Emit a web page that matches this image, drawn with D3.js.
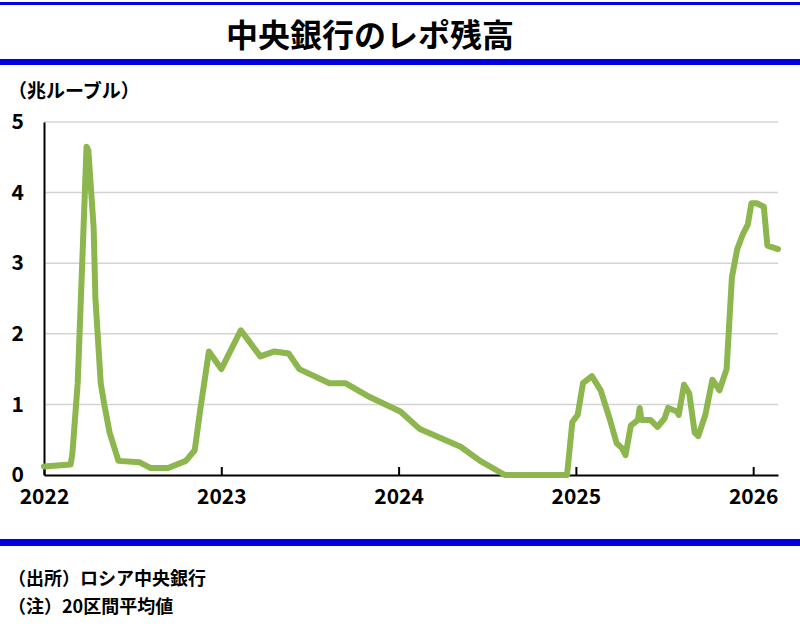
<!DOCTYPE html>
<html><head><meta charset="utf-8">
<script src="https://cdn.jsdelivr.net/npm/d3@7"></script>
<style>body{margin:0;background:#fff}text{font-family:"Noto Sans CJK JP","Noto Sans",sans-serif}</style>
</head><body><svg id="chart" width="800" height="640"></svg>
<script>
const years = [2022, 2023, 2024, 2025, 2026];
const yTicks = [0, 1, 2, 3, 4, 5];
const dates = [2022.00,2022.15,2022.16,2022.19,2022.22,2022.24,2022.25,2022.28,2022.29,2022.32,2022.34,2022.37,2022.42,2022.54,2022.60,2022.70,2022.80,2022.85,2022.88,2022.93,2023.00,2023.11,2023.14,2023.22,2023.30,2023.38,2023.44,2023.61,2023.70,2023.84,2024.01,2024.12,2024.35,2024.46,2024.60,2024.95,2024.98,2025.01,2025.04,2025.09,2025.14,2025.19,2025.23,2025.26,2025.28,2025.31,2025.35,2025.36,2025.37,2025.42,2025.46,2025.50,2025.52,2025.57,2025.58,2025.61,2025.64,2025.67,2025.69,2025.73,2025.77,2025.81,2025.85,2025.88,2025.91,2025.94,2025.97,2025.99,2026.02,2026.06,2026.08,2026.14];
const repo = [0.12,0.15,0.3,1.3,3.3,4.65,4.6,3.5,2.5,1.3,1.0,0.6,0.2,0.18,0.1,0.1,0.2,0.35,0.9,1.75,1.5,2.05,1.95,1.68,1.75,1.72,1.5,1.3,1.3,1.1,0.9,0.65,0.4,0.2,0,0,0.75,0.85,1.3,1.4,1.2,0.8,0.45,0.38,0.28,0.7,0.78,0.95,0.78,0.78,0.68,0.8,0.95,0.9,0.85,1.28,1.15,0.6,0.55,0.85,1.35,1.2,1.5,2.8,3.2,3.4,3.55,3.85,3.85,3.8,3.25,3.2];

const svg = d3.select('#chart');
const x = d3.scaleLinear().domain([2022, 2026.14]).range([44, 778]);
const y = d3.scaleLinear().domain([0, 5]).range([475, 122]);

// header / footer rules
svg.append('rect').attr('x', 0).attr('y', 2).attr('width', 800).attr('height', 3).attr('fill', '#0000e0');
svg.append('rect').attr('x', 0).attr('y', 59).attr('width', 800).attr('height', 6).attr('fill', '#0000e0');
svg.append('rect').attr('x', 0).attr('y', 539).attr('width', 800).attr('height', 7).attr('fill', '#0000e0');
svg.append('text').attr('x', 370).attr('y', 47).attr('text-anchor', 'middle').attr('font-size', 32).attr('font-weight', 'bold').text('中央銀行のレポ残高');
svg.append('text').attr('x', 8).attr('y', 98).attr('font-size', 19).attr('font-weight', 'bold').text('（兆ルーブル）');
svg.append('text').attr('x', 8).attr('y', 585).attr('font-size', 18).attr('font-weight', 'bold').text('（出所）ロシア中央銀行');
svg.append('text').attr('x', 8).attr('y', 613).attr('font-size', 18).attr('font-weight', 'bold').text('（注）20区間平均値');

// grid
svg.append('g').selectAll('line').data(yTicks.slice(1)).join('line')
  .attr('x1', 44).attr('x2', 778).attr('y1', (d) => y(d)).attr('y2', (d) => y(d))
  .attr('stroke', '#d4d4d4').attr('stroke-width', 1.5);

svg.append('g').attr('transform', 'translate(44,0)')
  .call(d3.axisLeft(y).tickValues(yTicks).tickFormat(d3.format('d')).tickSize(0).tickPadding(20))
  .call((g) => g.select('.domain').attr('stroke', '#000').attr('stroke-width', 2))
  .call((g) => g.selectAll('text').attr('font-size', 21).attr('font-weight', 'bold').attr('fill', '#000').attr('font-family', 'Liberation Sans Narrow, Liberation Sans, sans-serif'));

svg.append('g').attr('transform', 'translate(0,475)')
  .call(d3.axisBottom(x).tickValues(years).tickFormat(d3.format('d')).tickSizeInner(-8).tickSizeOuter(0).tickPadding(14))
  .call((g) => g.select('.domain').attr('stroke', '#000').attr('stroke-width', 2))
  .call((g) => g.selectAll('.tick line').attr('stroke', '#000').attr('stroke-width', 2))
  .call((g) => g.selectAll('text').attr('font-size', 21).attr('font-weight', 'bold').attr('fill', '#000').attr('font-family', 'Liberation Sans Narrow, Liberation Sans, sans-serif'));

const line = d3.line().x((d, i) => x(dates[i])).y((d) => y(d));
svg.append('path').attr('d', line(repo)).attr('fill', 'none').attr('stroke', '#8db64e')
  .attr('stroke-width', 6).attr('stroke-linejoin', 'round').attr('stroke-linecap', 'round');
</script></body></html>
